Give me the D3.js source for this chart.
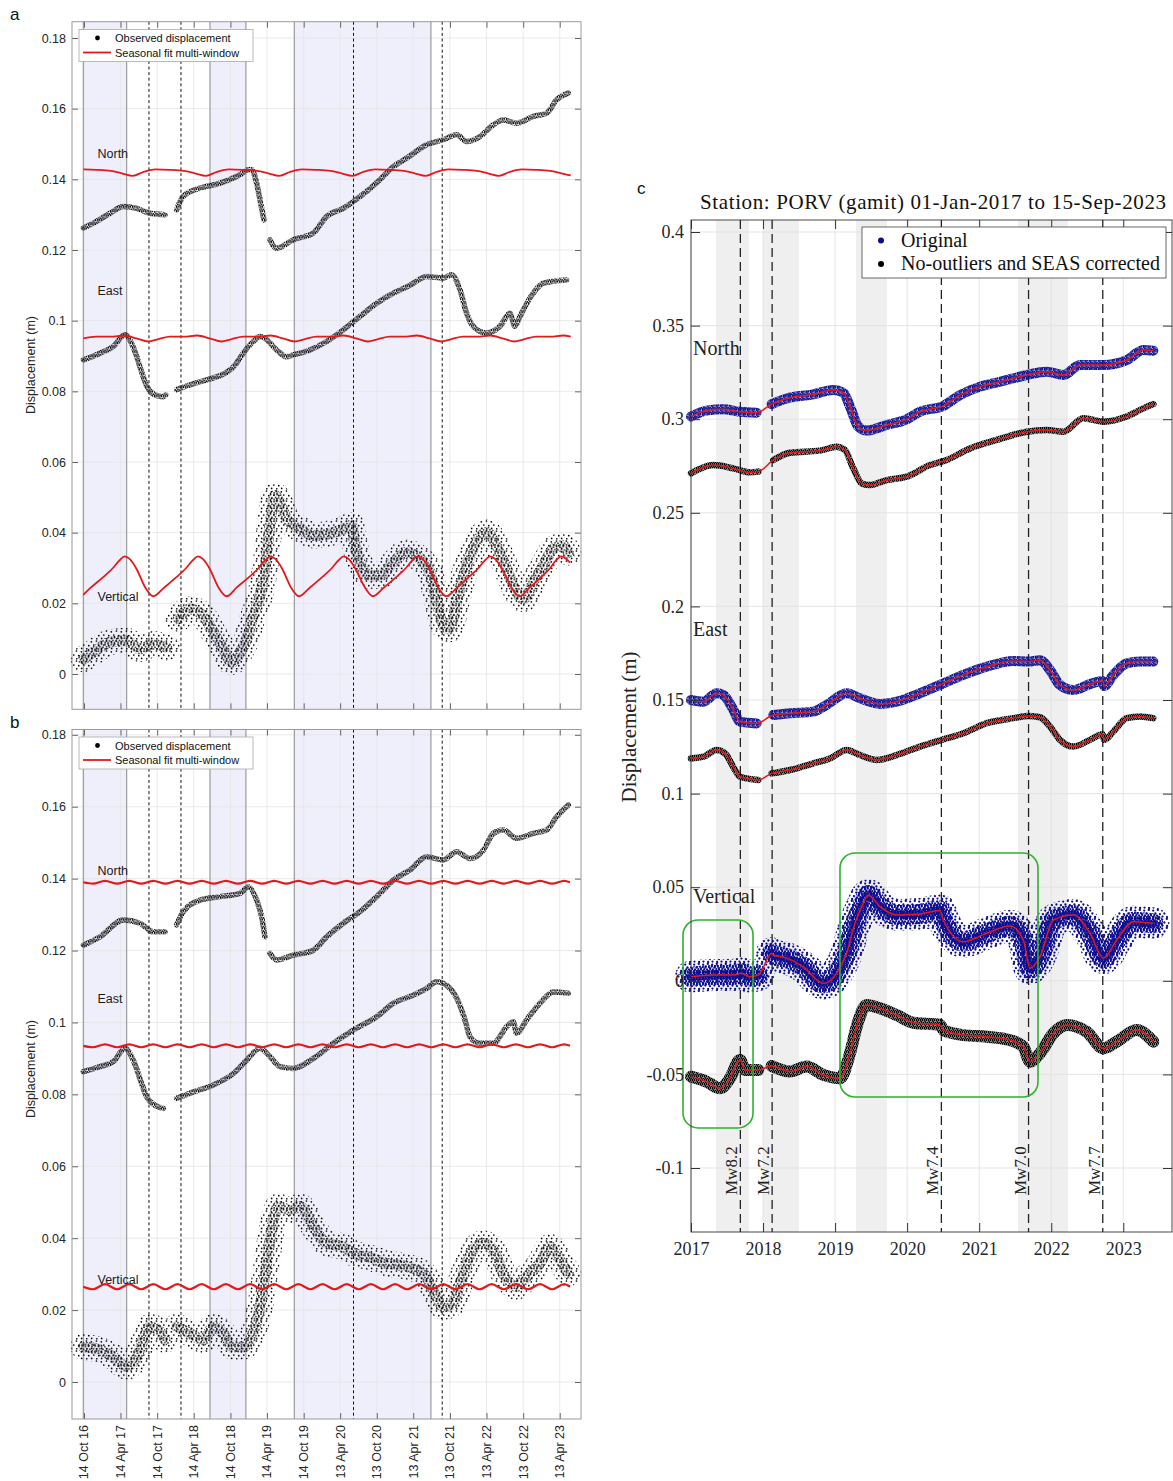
<!DOCTYPE html>
<html><head><meta charset="utf-8">
<script src="https://cdn.jsdelivr.net/npm/d3@7"></script>
<style>body{margin:0;background:#fff}svg{display:block}</style>
</head><body>
<script>
// ===================== DATA =====================
// Panels a & b : decimal-year time, displacement (m); null = data gap
const yTicksAB = [0,0.02,0.04,0.06,0.08,0.1,0.12,0.14,0.16,0.18];
const yTickLabelsAB = ["0","0.02","0.04","0.06","0.08","0.1","0.12","0.14","0.16","0.18"];
const xTickDatesAB = ["2016-10-14","2017-04-14","2017-10-14","2018-04-14","2018-10-14","2019-04-14","2019-10-14","2020-04-13","2020-10-13","2021-04-13","2021-10-13","2022-04-13","2022-10-13","2023-04-13"];
const xTickLabelsAB = ["14 Oct 16","14 Apr 17","14 Oct 17","14 Apr 18","14 Oct 18","14 Apr 19","14 Oct 19","13 Apr 20","13 Oct 20","13 Apr 21","13 Oct 21","13 Apr 22","13 Oct 22","13 Apr 23"];
const shadeAB = [[2016.774,2017.367],[2018.504,2018.995],[2019.655,2021.521]];
const dashedAB = [2017.671,2018.108,2020.464,2021.675];
const compLabels = ["North","East","Vertical"];

const northObsA = [[2016.775,0.1262],[2016.911,0.1276],[2017.139,0.1304],[2017.321,0.1323],[2017.503,0.1318],[2017.685,0.1304],[2017.890,0.1300],[2017.97,null],[2018.049,0.1314],[2018.140,0.1352],[2018.368,0.1375],[2018.641,0.1389],[2018.914,0.1413],[2019.028,0.1427],[2019.073,0.1427],[2019.141,0.1389],[2019.187,0.1342],[2019.241,0.1285],[2019.29,null],[2019.323,0.1229],[2019.414,0.1205],[2019.642,0.1229],[2019.915,0.1248],[2020.097,0.1295],[2020.324,0.1318],[2020.552,0.1351],[2020.825,0.1399],[2021.007,0.1436],[2021.189,0.1460],[2021.462,0.1498],[2021.690,0.1512],[2021.872,0.1526],[2022.008,0.1507],[2022.190,0.1521],[2022.372,0.1554],[2022.509,0.1568],[2022.691,0.1559],[2022.918,0.1578],[2023.100,0.1587],[2023.237,0.1625],[2023.396,0.1644]];
const eastObsA = [[2016.775,0.0889],[2017.002,0.0908],[2017.184,0.0927],[2017.344,0.0960],[2017.457,0.0925],[2017.571,0.0855],[2017.640,0.0815],[2017.753,0.0790],[2017.867,0.0785],[2017.900,0.0790],[2017.97,null],[2018.050,0.0805],[2018.250,0.0820],[2018.500,0.0835],[2018.700,0.0850],[2018.850,0.0875],[2018.914,0.0895],[2019.096,0.0941],[2019.187,0.0955],[2019.278,0.0946],[2019.414,0.0917],[2019.551,0.0898],[2019.642,0.0903],[2019.869,0.0917],[2020.097,0.0941],[2020.324,0.0974],[2020.552,0.1012],[2020.780,0.1049],[2021.007,0.1078],[2021.235,0.1100],[2021.462,0.1125],[2021.690,0.1121],[2021.803,0.1130],[2021.917,0.1088],[2022.008,0.1021],[2022.099,0.0984],[2022.281,0.0965],[2022.463,0.0984],[2022.600,0.1021],[2022.668,0.0984],[2022.736,0.1012],[2022.918,0.1078],[2023.055,0.1106],[2023.373,0.1115]];
const vertObsA = [[2016.775,0.0042],[2016.911,0.0061],[2017.139,0.0090],[2017.366,0.0094],[2017.548,0.0071],[2017.731,0.0085],[2017.913,0.0075],[2017.98,null],[2018.072,0.0156],[2018.231,0.0184],[2018.413,0.0165],[2018.550,0.0118],[2018.686,0.0071],[2018.800,0.0033],[2018.914,0.0061],[2019.005,0.0099],[2019.096,0.0165],[2019.187,0.0222],[2019.255,0.0297],[2019.323,0.0420],[2019.392,0.0505],[2019.460,0.0486],[2019.551,0.0439],[2019.733,0.0411],[2019.915,0.0392],[2020.097,0.0396],[2020.279,0.0406],[2020.438,0.0420],[2020.484,0.0363],[2020.552,0.0316],[2020.688,0.0278],[2020.825,0.0278],[2021.007,0.0316],[2021.189,0.0344],[2021.371,0.0326],[2021.508,0.0288],[2021.599,0.0212],[2021.690,0.0137],[2021.781,0.0127],[2021.872,0.0203],[2022.008,0.0307],[2022.145,0.0373],[2022.281,0.0401],[2022.418,0.0363],[2022.554,0.0297],[2022.691,0.0231],[2022.782,0.0212],[2022.918,0.0260],[2023.055,0.0307],[2023.191,0.0354],[2023.328,0.0363],[2023.396,0.0344]];

const northFitA = [[2016.775,0.1428],[2016.95,0.1427],[2017.15,0.1424],[2017.30,0.1417],[2017.45,0.1410],[2017.60,0.1421],[2017.76,0.1428],[2017.95,0.1427],[2018.15,0.1424],[2018.30,0.1417],[2018.45,0.1410],[2018.60,0.1421],[2018.76,0.1428],[2018.95,0.1427],[2019.15,0.1424],[2019.30,0.1417],[2019.45,0.1410],[2019.60,0.1421],[2019.76,0.1428],[2019.95,0.1427],[2020.15,0.1424],[2020.30,0.1417],[2020.45,0.1410],[2020.60,0.1421],[2020.76,0.1428],[2020.95,0.1427],[2021.15,0.1424],[2021.30,0.1417],[2021.45,0.1410],[2021.60,0.1421],[2021.76,0.1428],[2021.95,0.1427],[2022.15,0.1424],[2022.30,0.1417],[2022.45,0.1410],[2022.60,0.1421],[2022.76,0.1428],[2022.95,0.1427],[2023.15,0.1424],[2023.30,0.1417],[2023.43,0.1411]];
const eastFitA = [[2016.775,0.0950],[2016.95,0.0955],[2017.15,0.0955],[2017.33,0.0958],[2017.50,0.0950],[2017.66,0.0941],[2017.80,0.0948],[2017.96,0.0955],[2018.15,0.0955],[2018.33,0.0958],[2018.50,0.0950],[2018.66,0.0941],[2018.80,0.0948],[2018.96,0.0955],[2019.15,0.0955],[2019.33,0.0958],[2019.50,0.0950],[2019.66,0.0941],[2019.80,0.0948],[2019.96,0.0955],[2020.15,0.0955],[2020.33,0.0958],[2020.50,0.0950],[2020.66,0.0941],[2020.80,0.0948],[2020.96,0.0955],[2021.15,0.0955],[2021.33,0.0958],[2021.50,0.0950],[2021.66,0.0941],[2021.80,0.0948],[2021.96,0.0955],[2022.15,0.0955],[2022.33,0.0958],[2022.50,0.0950],[2022.66,0.0941],[2022.80,0.0948],[2022.96,0.0955],[2023.15,0.0955],[2023.33,0.0958],[2023.43,0.0955]];
const vertFitA = [[2016.775,0.0224],[2016.88,0.0245],[2017.05,0.0275],[2017.18,0.0300],[2017.27,0.0322],[2017.34,0.0333],[2017.41,0.0325],[2017.50,0.0298],[2017.62,0.0245],[2017.73,0.0220],[2017.88,0.0245],[2018.05,0.0275],[2018.18,0.0300],[2018.27,0.0322],[2018.34,0.0333],[2018.41,0.0325],[2018.50,0.0298],[2018.62,0.0245],[2018.73,0.0220],[2018.87,0.0245],[2019.04,0.0275],[2019.17,0.0300],[2019.26,0.0322],[2019.33,0.0333],[2019.40,0.0325],[2019.49,0.0298],[2019.61,0.0245],[2019.72,0.0220],[2019.87,0.0245],[2020.04,0.0275],[2020.17,0.0300],[2020.26,0.0322],[2020.33,0.0333],[2020.40,0.0325],[2020.49,0.0298],[2020.62,0.0245],[2020.73,0.0220],[2020.88,0.0245],[2021.05,0.0275],[2021.18,0.0300],[2021.27,0.0322],[2021.34,0.0333],[2021.41,0.0325],[2021.50,0.0298],[2021.62,0.0245],[2021.73,0.0220],[2021.88,0.0245],[2022.04,0.0275],[2022.17,0.0300],[2022.26,0.0322],[2022.33,0.0333],[2022.40,0.0325],[2022.49,0.0298],[2022.62,0.0245],[2022.73,0.0220],[2022.87,0.0245],[2023.03,0.0275],[2023.15,0.0300],[2023.23,0.0322],[2023.30,0.0333],[2023.36,0.0327],[2023.42,0.0315]];

const northObsB = [[2016.775,0.1215],[2017.002,0.1238],[2017.321,0.1285],[2017.548,0.1276],[2017.731,0.1252],[2017.890,0.1252],[2017.97,null],[2018.049,0.1271],[2018.140,0.1308],[2018.368,0.1340],[2018.641,0.1350],[2018.914,0.1359],[2019.028,0.1377],[2019.141,0.1340],[2019.209,0.1294],[2019.255,0.1238],[2019.29,null],[2019.323,0.1192],[2019.414,0.1174],[2019.642,0.1187],[2019.915,0.1201],[2020.097,0.1238],[2020.324,0.1276],[2020.552,0.1308],[2020.825,0.1359],[2021.007,0.1396],[2021.235,0.1424],[2021.462,0.1461],[2021.690,0.1452],[2021.872,0.1475],[2022.054,0.1456],[2022.236,0.1479],[2022.372,0.1526],[2022.509,0.1535],[2022.691,0.1512],[2022.918,0.1526],[2023.100,0.1535],[2023.237,0.1572],[2023.396,0.1605]];
const eastObsB = [[2016.775,0.0863],[2017.002,0.0877],[2017.184,0.0891],[2017.344,0.0928],[2017.457,0.0895],[2017.571,0.0830],[2017.640,0.0793],[2017.753,0.0770],[2017.867,0.0761],[2017.97,null],[2018.049,0.0789],[2018.277,0.0807],[2018.550,0.0826],[2018.823,0.0858],[2019.005,0.0895],[2019.187,0.0928],[2019.323,0.0905],[2019.460,0.0877],[2019.642,0.0872],[2019.915,0.0900],[2020.188,0.0942],[2020.461,0.0979],[2020.780,0.1016],[2021.007,0.1053],[2021.280,0.1076],[2021.462,0.1095],[2021.599,0.1113],[2021.781,0.1095],[2021.895,0.1058],[2021.986,0.1007],[2022.054,0.0960],[2022.190,0.0942],[2022.372,0.0942],[2022.554,0.0988],[2022.645,0.1002],[2022.691,0.0970],[2022.827,0.1007],[2023.009,0.1053],[2023.191,0.1085],[2023.396,0.1081]];
const vertObsB = [[2016.775,0.0098],[2017.002,0.0089],[2017.184,0.0070],[2017.366,0.0043],[2017.503,0.0070],[2017.594,0.0117],[2017.685,0.0154],[2017.822,0.0140],[2017.890,0.0117],[2017.97,null],[2018.049,0.0154],[2018.231,0.0135],[2018.413,0.0117],[2018.550,0.0154],[2018.686,0.0135],[2018.823,0.0098],[2018.959,0.0098],[2019.073,0.0126],[2019.187,0.0209],[2019.278,0.0330],[2019.346,0.0423],[2019.437,0.0488],[2019.596,0.0478],[2019.733,0.0488],[2019.915,0.0432],[2020.097,0.0386],[2020.324,0.0376],[2020.461,0.0358],[2020.643,0.0349],[2020.916,0.0330],[2021.189,0.0321],[2021.417,0.0302],[2021.553,0.0256],[2021.690,0.0209],[2021.826,0.0219],[2021.917,0.0274],[2022.099,0.0367],[2022.236,0.0386],[2022.372,0.0367],[2022.509,0.0302],[2022.691,0.0265],[2022.827,0.0293],[2023.009,0.0330],[2023.146,0.0376],[2023.282,0.0339],[2023.396,0.0302]];

const waveTimesB = [2016.775,2016.906,2017.071,2017.236,2017.401,2017.566,2017.731,2017.896,2018.061,2018.226,2018.391,2018.556,2018.721,2018.886,2019.051,2019.216,2019.381,2019.546,2019.711,2019.876,2020.041,2020.206,2020.371,2020.536,2020.701,2020.866,2021.031,2021.196,2021.361,2021.526,2021.691,2021.856,2022.021,2022.186,2022.351,2022.516,2022.681,2022.846,2023.011,2023.176,2023.341,2023.420];
const northFitB = [0.1390,0.1386,0.1394,0.1386,0.1394,0.1386,0.1394,0.1386,0.1394,0.1386,0.1394,0.1386,0.1394,0.1386,0.1394,0.1386,0.1394,0.1386,0.1394,0.1386,0.1394,0.1386,0.1394,0.1386,0.1394,0.1386,0.1394,0.1386,0.1394,0.1386,0.1394,0.1386,0.1394,0.1386,0.1394,0.1386,0.1394,0.1386,0.1394,0.1386,0.1394,0.1390];
const eastFitB = [0.0935,0.0931,0.0939,0.0931,0.0939,0.0931,0.0939,0.0931,0.0939,0.0931,0.0939,0.0931,0.0939,0.0931,0.0939,0.0931,0.0939,0.0931,0.0939,0.0931,0.0939,0.0931,0.0939,0.0931,0.0939,0.0931,0.0939,0.0931,0.0939,0.0931,0.0939,0.0931,0.0939,0.0931,0.0939,0.0931,0.0939,0.0931,0.0939,0.0931,0.0939,0.0935];
const vertFitB = [0.0265,0.0258,0.0272,0.0258,0.0272,0.0258,0.0272,0.0258,0.0272,0.0258,0.0272,0.0258,0.0272,0.0258,0.0272,0.0258,0.0272,0.0258,0.0272,0.0258,0.0272,0.0258,0.0272,0.0258,0.0272,0.0258,0.0272,0.0258,0.0272,0.0258,0.0272,0.0258,0.0272,0.0258,0.0272,0.0258,0.0272,0.0258,0.0272,0.0258,0.0272,0.0265];

// Panel c : decimal year, displacement (m)
const yTicksC = [-0.1,-0.05,0,0.05,0.1,0.15,0.2,0.25,0.3,0.35,0.4];
const yTickLabelsC = ["-0.1","-0.05","0","0.05","0.1","0.15","0.2","0.25","0.3","0.35","0.4"];
const xTicksC = [2017,2018,2019,2020,2021,2022,2023];
const xTickLabelsC = ["2017","2018","2019","2020","2021","2022","2023"];
const shadeC = [[2017.347,2017.805],[2018.0,2018.499],[2019.29,2019.72],[2021.538,2022.232]];
const quakeTimesC = [2017.685,2018.126,2020.475,2021.685,2022.715];
const quakeLabelsC = ["Mw8.2","Mw7.2","Mw7.4","Mw7.0","Mw7.7"];
const boxesC = [[2016.889,2017.861,0.0325,-0.0786],[2019.068,2021.816,0.0683,-0.0621]];

const northOrigC = [[2017.000,0.3014],[2017.217,0.3046],[2017.449,0.3053],[2017.680,0.3040],[2017.911,0.3035],[2018.0,null],[2018.120,0.3081],[2018.328,0.3111],[2018.698,0.3133],[2018.975,0.3156],[2019.114,0.3142],[2019.207,0.3067],[2019.322,0.2960],[2019.438,0.2939],[2019.716,0.2969],[2019.993,0.2999],[2020.178,0.3040],[2020.502,0.3071],[2020.734,0.3129],[2021.011,0.3174],[2021.289,0.3200],[2021.659,0.3236],[2021.936,0.3254],[2022.168,0.3236],[2022.399,0.3290],[2022.723,0.3290],[2023.047,0.3316],[2023.278,0.3370],[2023.417,0.3366]];
const northCorrC = [[2017.000,0.2711],[2017.310,0.2755],[2017.588,0.2737],[2017.819,0.2716],[2017.935,0.2720],[2018.0,null],[2018.143,0.2782],[2018.374,0.2821],[2018.790,0.2832],[2019.022,0.2853],[2019.137,0.2835],[2019.253,0.2737],[2019.369,0.2657],[2019.484,0.2648],[2019.716,0.2675],[2019.993,0.2693],[2020.317,0.2755],[2020.548,0.2782],[2020.872,0.2844],[2021.242,0.2889],[2021.659,0.2933],[2021.936,0.2942],[2022.168,0.2933],[2022.445,0.3005],[2022.723,0.2987],[2023.047,0.3014],[2023.278,0.3058],[2023.417,0.3081]];
const eastOrigC = [[2017.000,0.1500],[2017.171,0.1491],[2017.356,0.1536],[2017.449,0.1527],[2017.588,0.1447],[2017.680,0.1384],[2017.911,0.1375],[2018.0,null],[2018.143,0.1420],[2018.374,0.1429],[2018.698,0.1438],[2018.883,0.1474],[2019.160,0.1536],[2019.346,0.1509],[2019.623,0.1479],[2019.855,0.1491],[2020.178,0.1536],[2020.479,0.1585],[2020.780,0.1634],[2021.104,0.1678],[2021.474,0.1708],[2021.682,0.1705],[2021.844,0.1713],[2021.983,0.1660],[2022.121,0.1580],[2022.307,0.1553],[2022.538,0.1585],[2022.714,0.1602],[2022.732,0.1575],[2022.862,0.1634],[2023.047,0.1696],[2023.232,0.1705],[2023.417,0.1705]];
const eastCorrC = [[2017.000,0.1188],[2017.171,0.1197],[2017.356,0.1233],[2017.472,0.1215],[2017.611,0.1126],[2017.680,0.1090],[2017.935,0.1073],[2018.0,null],[2018.120,0.1108],[2018.374,0.1126],[2018.698,0.1162],[2018.929,0.1188],[2019.160,0.1233],[2019.346,0.1206],[2019.577,0.1180],[2019.855,0.1206],[2020.178,0.1251],[2020.479,0.1287],[2020.780,0.1322],[2021.104,0.1376],[2021.474,0.1403],[2021.682,0.1415],[2021.844,0.1408],[2021.983,0.1358],[2022.121,0.1287],[2022.307,0.1251],[2022.538,0.1287],[2022.714,0.1317],[2022.732,0.1287],[2022.862,0.1331],[2023.047,0.1403],[2023.232,0.1412],[2023.417,0.1403]];
const vertOrigC = [[2017.000,0.0022],[2017.310,0.0031],[2017.588,0.0031],[2017.703,0.0040],[2017.819,0.0022],[2017.935,0.0031],[2018.02,null],[2018.120,0.0147],[2018.143,0.0138],[2018.328,0.0121],[2018.559,0.0075],[2018.837,-0.0014],[2019.022,0.0040],[2019.160,0.0147],[2019.276,0.0307],[2019.369,0.0396],[2019.461,0.0458],[2019.623,0.0396],[2019.855,0.0352],[2020.178,0.0357],[2020.456,0.0375],[2020.502,0.0325],[2020.780,0.0209],[2021.104,0.0254],[2021.428,0.0293],[2021.613,0.0218],[2021.705,0.0067],[2021.844,0.0129],[2022.029,0.0325],[2022.307,0.0352],[2022.538,0.0254],[2022.723,0.0121],[2022.908,0.0218],[2023.139,0.0316],[2023.417,0.0307]];
const vertCorrC = [[2017.000,-0.0512],[2017.217,-0.0539],[2017.402,-0.0574],[2017.541,-0.0521],[2017.680,-0.0423],[2017.749,-0.0476],[2017.935,-0.0476],[2018.02,null],[2018.120,-0.0455],[2018.374,-0.0485],[2018.605,-0.0458],[2018.837,-0.0503],[2019.068,-0.0521],[2019.207,-0.0387],[2019.299,-0.0245],[2019.438,-0.0129],[2019.623,-0.0147],[2019.855,-0.0183],[2020.086,-0.0224],[2020.456,-0.0236],[2020.502,-0.0263],[2020.780,-0.0290],[2021.104,-0.0299],[2021.428,-0.0317],[2021.613,-0.0352],[2021.705,-0.0432],[2021.844,-0.0387],[2022.029,-0.0281],[2022.214,-0.0236],[2022.492,-0.0272],[2022.723,-0.0361],[2022.908,-0.0325],[2023.186,-0.0263],[2023.417,-0.0325]];

// ===================== DRAWING =====================
const SANS = "'Liberation Sans', Arial, Helvetica, sans-serif";
const SERIF = "'Liberation Serif', 'Times New Roman', serif";
const RED = "#e31a1c", BLUE = "#0b0b8f";

function decYear(s){
  const d = new Date(s+"T00:00:00Z"), y = d.getUTCFullYear();
  const a = Date.UTC(y,0,1), b = Date.UTC(y+1,0,1);
  return y + (d - a)/(b - a);
}

const svg = d3.select("body").append("svg").attr("width",1173).attr("height",1481);
svg.append("rect").attr("width",1173).attr("height",1481).attr("fill","#fff");
const defs = svg.append("defs");
function dotPattern(id, color, size, r, dots){
  const p = defs.append("pattern").attr("id",id).attr("patternUnits","userSpaceOnUse")
    .attr("width",size).attr("height",size);
  dots.forEach(d => p.append("circle").attr("cx",d[0]).attr("cy",d[1]).attr("r",r).attr("fill",color));
}
// dot tiles (style only)
const TILE_4 = [[0.6,0.7],[2.7,0.3],[1.6,2.0],[3.5,2.4],[0.5,3.4],[2.5,3.6]];
const TILE_6 = [[0.9,1.0],[3.8,0.6],[2.3,3.1],[5.1,3.5],[1.0,5.0],[3.7,5.3]];
const TILE_9 = [[1.2,1.6],[5.8,0.9],[3.4,4.5],[7.9,5.1],[1.5,7.6],[6.1,7.9]];
dotPattern("kD","#000",4.4,0.8,TILE_4.map(d=>[d[0]*1.1,d[1]*1.1]));
dotPattern("kM","#000",6.5,0.85,TILE_6.map(d=>[d[0]*1.08,d[1]*1.08]));
dotPattern("kS","#000",10,0.85,TILE_9.map(d=>[d[0]*1.11,d[1]*1.11]));
dotPattern("kC","#000",4,0.95,TILE_4);
dotPattern("bD",BLUE,4.5,1.1,TILE_4.map(d=>[d[0]*1.12,d[1]*1.12]));
dotPattern("bM",BLUE,6,1.15,TILE_6);
dotPattern("bS",BLUE,9,1.15,TILE_9);

// ---------- panels a & b ----------
const xAB = d3.scaleLinear().domain([decYear("2016-08-15"), decYear("2023-07-28")]).range([72,581]);
const xTickValsAB = xTickDatesAB.map(decYear);

function band(g, x, y, data, pattern, width){
  const line = d3.line().defined(d => d[1] !== null).x(d => x(d[0])).y(d => y(d[1])).curve(d3.curveMonotoneX);
  g.append("path").attr("d", line(data)).attr("fill","none").attr("stroke",`url(#${pattern})`)
    .attr("stroke-width",width).attr("stroke-linejoin","round").attr("stroke-linecap","round");
}
function fitLine(g, x, y, data, width){
  const pts = data.filter(d => d[1] !== null);
  const line = d3.line().x(d => x(d[0])).y(d => y(d[1])).curve(d3.curveMonotoneX);
  g.append("path").attr("d", line(pts)).attr("fill","none").attr("stroke",RED).attr("stroke-width",width)
    .attr("stroke-linejoin","round");
}

function drawLeft(cfg){
  const g = svg.append("g");
  const x = xAB, y = cfg.y, top = cfg.top, bottom = cfg.bottom, x0 = 72, x1 = 581;
  shadeAB.forEach(s => g.append("rect").attr("x",x(s[0])).attr("y",top).attr("width",x(s[1])-x(s[0]))
    .attr("height",bottom-top).attr("fill","#efeffc"));
  xTickValsAB.forEach(t => g.append("line").attr("x1",x(t)).attr("x2",x(t)).attr("y1",top).attr("y2",bottom)
    .attr("stroke","#e4e4e4").attr("stroke-width",0.8));
  yTicksAB.forEach(v => g.append("line").attr("x1",x0).attr("x2",x1).attr("y1",y(v)).attr("y2",y(v))
    .attr("stroke","#e4e4e4").attr("stroke-width",0.8));
  shadeAB.forEach(s => s.forEach(t => g.append("line").attr("x1",x(t)).attr("x2",x(t)).attr("y1",top).attr("y2",bottom)
    .attr("stroke","#7d7d7d").attr("stroke-width",0.9)));
  dashedAB.forEach(t => g.append("line").attr("x1",x(t)).attr("x2",x(t)).attr("y1",top).attr("y2",bottom)
    .attr("stroke","#111").attr("stroke-width",1).attr("stroke-dasharray","3,2.6"));

  // observations
  band(g, x, y, cfg.north, "kD", 5.5);
  band(g, x, y, cfg.east, "kD", 5.5);
  band(g, x, y, cfg.vert, "kS", 26);
  band(g, x, y, cfg.vert, "kM", 11);
  // fits
  cfg.fits.forEach(f => fitLine(g, x, y, f, cfg.fitWidth));

  // component labels
  cfg.labelY.forEach((ly,i) => g.append("text").attr("x",97.5).attr("y",ly).text(compLabels[i])
    .attr("font-family",SANS).attr("font-size","12.5px").attr("fill","#1a1a1a"));

  // legend
  const lg = g.append("g").attr("transform",`translate(79,${cfg.legendTop})`);
  lg.append("rect").attr("width",174).attr("height",32).attr("fill","#fff").attr("stroke","#a8a8a8").attr("stroke-width",0.8);
  lg.append("circle").attr("cx",18.5).attr("cy",8.5).attr("r",2.4).attr("fill","#000");
  lg.append("text").attr("x",36).attr("y",12.6).text("Observed displacement").attr("font-family",SANS).attr("font-size","11px").attr("fill","#111");
  lg.append("line").attr("x1",4).attr("x2",32).attr("y1",23).attr("y2",23).attr("stroke",RED).attr("stroke-width",1.8);
  lg.append("text").attr("x",36).attr("y",27).text("Seasonal fit multi-window").attr("font-family",SANS).attr("font-size","11px").attr("fill","#111");

  // axes
  const styleAxis = a => { a.select(".domain").remove(); a.selectAll("line").attr("stroke","#666");
    a.selectAll("text").attr("font-family",SANS).attr("font-size","12.5px").attr("fill","#262626"); };
  g.append("g").attr("transform",`translate(${x0},0)`)
    .call(d3.axisLeft(y).tickValues(yTicksAB).tickFormat((d,i)=>yTickLabelsAB[i]).tickSize(-6).tickPadding(6)).call(styleAxis);
  g.append("g").attr("transform",`translate(${x1},0)`)
    .call(d3.axisRight(y).tickValues(yTicksAB).tickFormat("").tickSize(-6)).call(styleAxis);
  g.append("g").attr("transform",`translate(0,${bottom})`)
    .call(d3.axisBottom(x).tickValues(xTickValsAB).tickFormat("").tickSize(-6)).call(styleAxis);
  g.append("g").attr("transform",`translate(0,${top})`)
    .call(d3.axisTop(x).tickValues(xTickValsAB).tickFormat("").tickSize(-6)).call(styleAxis);
  g.append("rect").attr("x",x0).attr("y",top).attr("width",x1-x0).attr("height",bottom-top)
    .attr("fill","none").attr("stroke","#9a9a9a").attr("stroke-width",1);

  if (cfg.xLabels){
    xTickValsAB.forEach((t,i) => g.append("text")
      .attr("transform",`translate(${x(t)},${bottom+6}) rotate(-90)`).attr("dy","0.35em")
      .attr("text-anchor","end").text(xTickLabelsAB[i])
      .attr("font-family",SANS).attr("font-size","12.5px").attr("fill","#262626"));
  }
  g.append("text").attr("transform",`translate(35,${cfg.ylabelY}) rotate(-90)`).attr("text-anchor","middle")
    .text("Displacement (m)").attr("font-family",SANS).attr("font-size","12.5px").attr("fill","#262626");
  g.append("text").attr("x",10).attr("y",cfg.panelY).text(cfg.panel).attr("font-family",SANS).attr("font-size","17px").attr("fill","#111");
}

drawLeft({
  y: d3.scaleLinear().domain([0,0.18]).range([674,38]), top:21.7, bottom:709.3,
  north:northObsA, east:eastObsA, vert:vertObsA, fits:[northFitA,eastFitA,vertFitA], fitWidth:1.8,
  labelY:[158,295,601], legendTop:29.5, xLabels:false, ylabelY:365, panel:"a", panelY:20
});
const zipB = vals => waveTimesB.map((t,i) => [t, vals[i]]);
drawLeft({
  y: d3.scaleLinear().domain([0,0.18]).range([1382,734.8]), top:729.5, bottom:1419,
  north:northObsB, east:eastObsB, vert:vertObsB, fits:[zipB(northFitB),zipB(eastFitB),zipB(vertFitB)], fitWidth:2.2,
  labelY:[875,1003,1284], legendTop:737, xLabels:true, ylabelY:1069, panel:"b", panelY:728
});

// ---------- panel c ----------
(function(){
  const g = svg.append("g");
  const x0 = 691, x1 = 1172, top = 220, bottom = 1232;
  const x = d3.scaleLinear().domain([2017, 2023.676]).range([x0,x1]);
  const y = d3.scaleLinear().domain([-0.1,0.4]).range([1168,232]);

  shadeC.forEach(s => g.append("rect").attr("x",x(s[0])).attr("y",top).attr("width",x(s[1])-x(s[0]))
    .attr("height",bottom-top).attr("fill","#efefef"));
  xTicksC.forEach(t => g.append("line").attr("x1",x(t)).attr("x2",x(t)).attr("y1",top).attr("y2",bottom)
    .attr("stroke","#e2e2e2").attr("stroke-width",0.9));
  yTicksC.forEach(v => g.append("line").attr("x1",x0).attr("x2",x1).attr("y1",y(v)).attr("y2",y(v))
    .attr("stroke","#e2e2e2").attr("stroke-width",0.9));
  quakeTimesC.forEach(t => g.append("line").attr("x1",x(t)).attr("x2",x(t)).attr("y1",top).attr("y2",bottom)
    .attr("stroke","#222").attr("stroke-width",1.3).attr("stroke-dasharray","9,5"));

  // original (blue) + fits
  band(g, x, y, northOrigC, "bD", 10);
  band(g, x, y, eastOrigC, "bD", 10);
  band(g, x, y, vertOrigC, "bS", 32);
  band(g, x, y, vertOrigC, "bM", 20);
  band(g, x, y, vertOrigC, "bD", 9);
  [northOrigC, eastOrigC, vertOrigC].forEach(d => fitLine(g, x, y, d, 1.5));
  // corrected (black) + fits
  band(g, x, y, northCorrC, "kC", 6.5);
  band(g, x, y, eastCorrC, "kC", 6.5);
  band(g, x, y, vertCorrC, "kC", 12);
  [northCorrC, eastCorrC, vertCorrC].forEach(d => fitLine(g, x, y, d, 1.5));

  // earthquake labels
  quakeTimesC.forEach((t,i) => g.append("text").attr("transform",`translate(${x(t)-3},1195) rotate(-90)`)
    .text(quakeLabelsC[i]).attr("font-family",SERIF).attr("font-size","17px").attr("fill","#222"));
  // component labels
  [[355,"North"],[636,"East"],[903,"Vertical"]].forEach(d => g.append("text").attr("x",693).attr("y",d[0]).text(d[1])
    .attr("font-family",SERIF).attr("font-size","20px").attr("fill","#222"));
  // green boxes
  boxesC.forEach(b => g.append("rect").attr("x",x(b[0])).attr("y",y(b[2])).attr("width",x(b[1])-x(b[0]))
    .attr("height",y(b[3])-y(b[2])).attr("rx",15).attr("fill","none").attr("stroke","#2db32d").attr("stroke-width",1.6));

  // axes
  const styleAxis = a => { a.select(".domain").remove(); a.selectAll("line").attr("stroke","#333");
    a.selectAll("text").attr("font-family",SERIF).attr("font-size","18px").attr("fill","#262626"); };
  g.append("g").attr("transform",`translate(${x0},0)`)
    .call(d3.axisLeft(y).tickValues(yTicksC).tickFormat((d,i)=>yTickLabelsC[i]).tickSize(-9).tickPadding(7)).call(styleAxis);
  g.append("g").attr("transform",`translate(${x1},0)`)
    .call(d3.axisRight(y).tickValues(yTicksC).tickFormat("").tickSize(-9)).call(styleAxis);
  g.append("g").attr("transform",`translate(0,${bottom})`)
    .call(d3.axisBottom(x).tickValues(xTicksC).tickFormat((d,i)=>xTickLabelsC[i]).tickSize(-9).tickPadding(10)).call(styleAxis);
  g.append("g").attr("transform",`translate(0,${top})`)
    .call(d3.axisTop(x).tickValues(xTicksC).tickFormat("").tickSize(-9)).call(styleAxis);
  g.append("rect").attr("x",x0).attr("y",top).attr("width",x1-x0).attr("height",bottom-top)
    .attr("fill","none").attr("stroke","#333").attr("stroke-width",0.9);

  // legend
  const lg = g.append("g").attr("transform","translate(862,227)");
  lg.append("rect").attr("width",304).attr("height",51).attr("fill","#fff").attr("stroke","#444").attr("stroke-width",0.8);
  lg.append("circle").attr("cx",19).attr("cy",13.5).attr("r",3).attr("fill",BLUE);
  lg.append("text").attr("x",39).attr("y",19.5).text("Original").attr("font-family",SERIF).attr("font-size","20px").attr("fill","#111");
  lg.append("circle").attr("cx",19).attr("cy",37).attr("r",3).attr("fill","#000");
  lg.append("text").attr("x",39).attr("y",43).text("No-outliers and SEAS corrected").attr("font-family",SERIF)
    .attr("font-size","20px").attr("textLength",259).attr("lengthAdjust","spacing").attr("fill","#111");

  // title, y label, panel letter
  g.append("text").attr("x",933).attr("y",209).attr("text-anchor","middle")
    .text("Station: PORV (gamit) 01-Jan-2017 to 15-Sep-2023").attr("font-family",SERIF).attr("font-size","21px")
    .attr("textLength",466).attr("lengthAdjust","spacing").attr("fill","#111");
  g.append("text").attr("transform","translate(636,727) rotate(-90)").attr("text-anchor","middle")
    .text("Displacement (m)").attr("font-family",SERIF).attr("font-size","21px").attr("fill","#222");
  g.append("text").attr("x",637).attr("y",194).text("c").attr("font-family",SANS).attr("font-size","17px").attr("fill","#111");
})();
</script>
</body></html>
